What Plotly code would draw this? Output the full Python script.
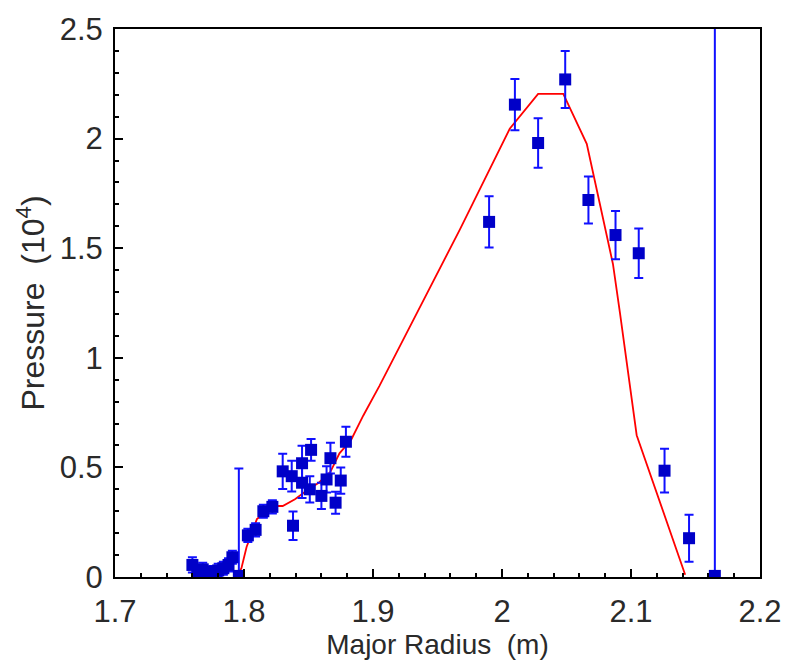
import plotly.graph_objects as go

# Measured points: major radius (m), pressure (1e4), error bars
radius = [1.760, 1.764, 1.768, 1.772, 1.776, 1.780, 1.784, 1.788, 1.791, 1.796,
          1.803, 1.809, 1.815, 1.822, 1.830, 1.837, 1.838, 1.845, 1.845, 1.852,
          1.851, 1.860, 1.864, 1.867, 1.871, 1.875, 1.879,
          1.990, 2.010, 2.028, 2.049, 2.067, 2.088, 2.106, 2.126, 2.145, 2.165]
pressure = [0.055, 0.020, 0.035, 0.020, 0.025, 0.030, 0.040, 0.055, 0.090, 0.005,
            0.190, 0.215, 0.300, 0.320, 0.482, 0.460, 0.234, 0.519, 0.430, 0.580,
            0.400, 0.370, 0.445, 0.542, 0.339, 0.440, 0.617,
            1.620, 2.155, 1.980, 2.270, 1.720, 1.560, 1.477, 0.485, 0.177, 0.005]
err_plus = [0.035, 0.030, 0.030, 0.025, 0.025, 0.030, 0.030, 0.030, 0.030, 0.490,
            0.030, 0.030, 0.030, 0.030, 0.080, 0.070, 0.065, 0.080, 0.070, 0.050,
            0.060, 0.060, 0.060, 0.070, 0.050, 0.060, 0.068,
            0.117, 0.117, 0.113, 0.130, 0.107, 0.110, 0.113, 0.100, 0.107, 3.000]
err_minus = [0.035, 0.020, 0.030, 0.020, 0.025, 0.030, 0.030, 0.030, 0.030, 0.005,
             0.030, 0.030, 0.030, 0.030, 0.080, 0.070, 0.065, 0.080, 0.070, 0.050,
             0.060, 0.060, 0.060, 0.070, 0.050, 0.060, 0.068,
             0.117, 0.117, 0.113, 0.130, 0.107, 0.110, 0.113, 0.100, 0.107, 0.005]

# Fitted profile (red line)
fit_radius = [1.794, 1.798, 1.802, 1.810, 1.823, 1.830, 1.8395, 1.850, 1.858, 1.867,
              1.874, 1.883, 1.8925, 1.905, 1.9674, 2.006, 2.028, 2.0475, 2.0657,
              2.0695, 2.076, 2.086, 2.0915, 2.1044, 2.142]
fit_pressure = [0.000, 0.040, 0.137, 0.264, 0.324, 0.324, 0.355, 0.400, 0.430, 0.480,
                0.564, 0.625, 0.737, 0.872, 1.586, 2.045, 2.204, 2.204, 1.976,
                1.878, 1.698, 1.428, 1.203, 0.647, 0.010]

x_ticks = [1.7, 1.8, 1.9, 2.0, 2.1, 2.2]
x_labels = ["1.7", "1.8", "1.9", "2", "2.1", "2.2"]
y_ticks = [0, 0.5, 1, 1.5, 2, 2.5]
y_labels = ["0", "0.5", "1", "1.5", "2", "2.5"]

fig = go.Figure()
fig.add_trace(go.Scatter(
    x=fit_radius, y=fit_pressure, mode="lines",
    line=dict(color="#ff0000", width=1.8), showlegend=False))
fig.add_trace(go.Scatter(
    x=radius, y=pressure, mode="markers",
    marker=dict(symbol="square", size=12, color="#0000c8"),
    error_y=dict(type="data", symmetric=False, array=err_plus, arrayminus=err_minus,
                 color="#1010ff", thickness=2, width=4.5),
    showlegend=False))

fam = "Liberation Sans, Arial, sans-serif"
tick_font = dict(family=fam, size=31, color="#2a2a2a")
xt_font = dict(family=fam, size=28, color="#2a2a2a")
yt_font = dict(family=fam, size=32, color="#2a2a2a")
fig.update_layout(
    width=812, height=668,
    margin=dict(l=115, r=52, t=22, b=91),
    paper_bgcolor="white", plot_bgcolor="white",
    font=tick_font,
    xaxis=dict(range=[1.7, 2.2], tickvals=x_ticks, ticktext=x_labels,
               ticks="inside", ticklen=8, tickwidth=1.5, tickcolor="black",
               minor=dict(ticks="inside", dtick=0.02, ticklen=4, tickcolor="black", tickwidth=1.5),
               showline=True, linecolor="black", linewidth=2, mirror=True,
               showgrid=False, zeroline=False, ticklabelstandoff=6,
               tickfont=tick_font,
               title=dict(text="Major Radius\u00a0\u00a0(m)", standoff=3, font=xt_font)),
    yaxis=dict(range=[0, 2.5], tickvals=y_ticks, ticktext=y_labels,
               ticks="inside", ticklen=8, tickwidth=1.5, tickcolor="black",
               minor=dict(ticks="inside", dtick=0.1, ticklen=4, tickcolor="black", tickwidth=1.5),
               showline=True, linecolor="black", linewidth=2, mirror=True,
               showgrid=False, zeroline=False, ticklabelstandoff=4,
               tickfont=tick_font,
               title=dict(text="Pressure\u00a0\u00a0(10<sup>4</sup>)", standoff=5, font=yt_font)),
)
fig.write_html("out.html")
